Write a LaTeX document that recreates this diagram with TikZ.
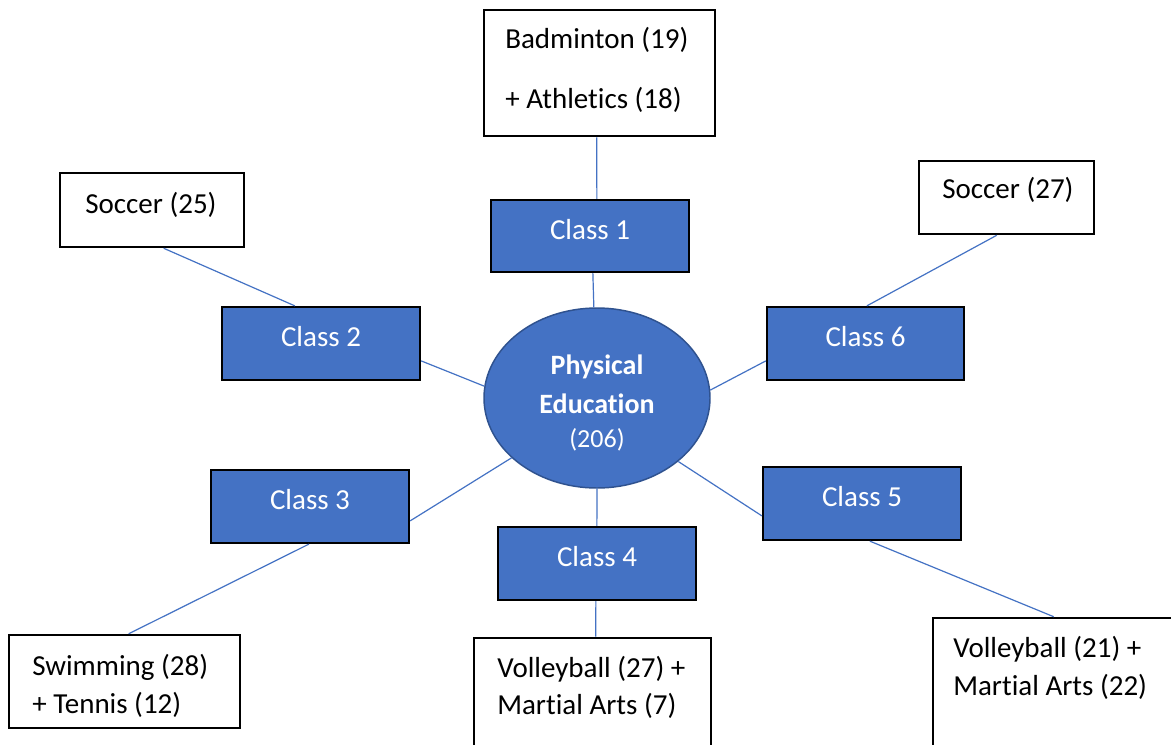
\documentclass[tikz,border=0pt]{standalone}
\usepackage{fontspec}
\setmainfont{Carlito}[Ligatures=NoCommon]
\usetikzlibrary{calc,shapes.geometric}
\definecolor{accent}{HTML}{4472C4}
\definecolor{accentdark}{HTML}{2F528F}
\begin{document}
\begin{tikzpicture}[x=0.75pt,y=-0.75pt,
  sz/.style 2 args={minimum width=#1*0.75pt, minimum height=#2*0.75pt},
  infobox/.style={draw=black, line width=1.9pt, fill=white, inner sep=0pt},
  classbox/.style={draw=black, line width=1.7pt, fill=accent, inner sep=0pt,
    text=white, font=\fontsize{21.75}{26}\selectfont, text height=12.25pt, text depth=7.75pt},
  hub/.style={ellipse, draw=accentdark, line width=1.1pt, fill=accent, inner sep=0pt},
  hubtext/.style={text=white, anchor=base, inner sep=0pt},
  txt/.style={anchor=base west, inner sep=0pt, text=black, font=\fontsize{21.75}{26}\selectfont},
  link/.style={draw=accent, line width=0.9pt}]
\useasboundingbox (0,0) rectangle (1171,744);
\clip (0,0) rectangle (1171,744);
\fill[white] (0,0) rectangle (1171,744);

% central hub
\node[hub, sz={226}{180}] (pe) at (597,398) {};
\node[hubtext, font=\fontsize{21}{26}\bfseries\selectfont] (pe1) at (597,374) {Physical};
\node[hubtext, font=\fontsize{21}{26}\bfseries\selectfont] (pe2) at (597,413) {Education};
\node[hubtext, font=\fontsize{19.5}{24}\selectfont] (pe3) at (597,447) {(206)};

% class boxes
\node[classbox, sz={198}{72}] (c1) at (590,236) {Class 1};
\node[classbox, sz={198}{73}] (c2) at (321,343.5) {Class 2};
\node[classbox, sz={198}{73}] (c3) at (310,506.5) {Class 3};
\node[classbox, sz={198}{73}] (c4) at (597,563.5) {Class 4};
\node[classbox, sz={198}{73}] (c5) at (862,503.5) {Class 5};
\node[classbox, sz={197}{73}] (c6) at (865.5,343.5) {Class 6};

% sport boxes
\node[infobox, sz={231}{126}] (top) at (599.5,73) {};
\node[txt] (top1) at (505,48) {Badminton (19)};
\node[txt] (top2) at (505,108) {+ Athletics (18)};

\node[infobox, sz={184}{74}] (s25) at (152,210) {};
\node[txt] (s25t) at (85,213) {Soccer (25)};

\node[infobox, sz={175}{73}] (s27) at (1006.5,197.5) {};
\node[txt] (s27t) at (942,198) {Soccer (27)};

\node[infobox, sz={231}{93}] (sw) at (124.5,681.5) {};
\node[txt] (sw1) at (32,675) {Swimming (28)};
\node[txt] (sw2) at (32,713) {+ Tennis (12)};

\node[infobox, sz={237}{122}] (v27) at (592.5,699) {};
\node[txt] (v271) at (497,677) {Volleyball (27) +};
\node[txt] (v272) at (497,714) {Martial Arts (7)};

\node[infobox, sz={252}{142}] (v21) at (1059,689) {};
\node[txt] (v211) at (953,657) {Volleyball (21) +};
\node[txt] (v212) at (953,695) {Martial Arts (22)};

% connectors
\draw[link] ($(top.south west)+(114,0)$) -- ($(c1.north west)+(107,0)$);
\draw[link] ($(c1.south west)+(103,0)$) -- (pe.92);
\draw[link] ($(s25.south west)+(105,0)$) -- ($(c2.north west)+(74,0)$);
\draw[link] ($(c2.north east)+(0,55)$) -- (pe.174);
\draw[link] ($(s27.south west)+(79,0)$) -- ($(c6.north west)+(101,0)$);
\draw[link] ($(c6.north west)+(0,55)$) -- (pe.4);
\draw[link] ($(c3.north east)+(0,52)$) -- (pe.215);
\draw[link] ($(c3.south west)+(99,0)$) -- ($(sw.north west)+(121,0)$);
\draw[link] (pe.270) -- ($(c4.north west)+(100,0)$);
\draw[link] ($(c4.south west)+(99,0)$) -- ($(v27.north west)+(123,0)$);
\draw[link] ($(c5.north west)+(0,50)$) -- (pe.322);
\draw[link] ($(c5.south west)+(108,0)$) -- ($(v21.north west)+(122,0)$);
\end{tikzpicture}
\end{document}
